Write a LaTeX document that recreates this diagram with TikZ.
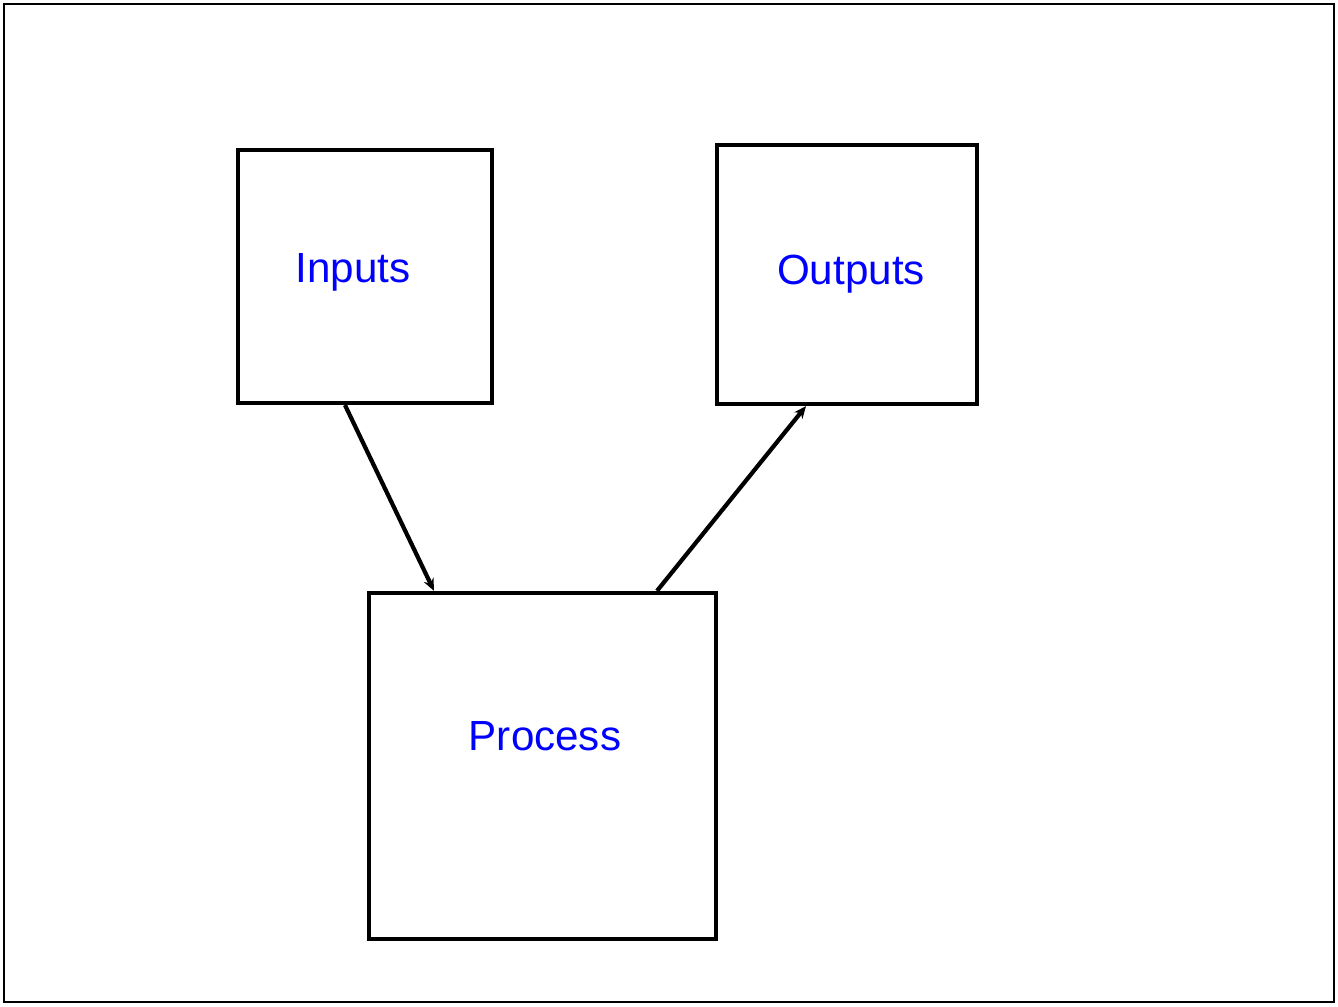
\documentclass[tikz,border=0pt]{standalone}
\usepackage{fontspec}
\setmainfont{Liberation Sans}
\usetikzlibrary{arrows.meta}

\tikzset{
	blockbox/.style={draw,line width=2.4pt,rectangle,inner sep=0pt},
	blocktext/.style={text=blue,font=\fontsize{24}{29}\selectfont},
	flow/.style={line width=2.4pt,-{Stealth[length=7pt,width=6pt]}}
}

\begin{document}
\begin{tikzpicture}
		\useasboundingbox (0,0) rectangle (26.76,-20.12);
		\draw[line width=0.9pt] (0.08,-0.08) rectangle (26.68,-20.04);
		% the three blocks
		\node[blockbox,minimum width=5.08cm,minimum height=5.06cm](in) at (7.30,-5.53){};
		\node[blockbox,minimum width=5.20cm,minimum height=5.18cm](out) at (16.94,-5.49){};
		\node[blockbox,minimum width=6.94cm,minimum height=6.92cm](pr) at (10.85,-15.32){};
		\node[blocktext](intext) at (7.06,-5.44){Inputs};
		\node[blocktext](outtext) at (17.02,-5.48){Outputs};
		\node[blocktext](prtext) at (10.90,-14.72){Process};
		% arrows between blocks
		\draw[flow] ([xshift=-0.40cm]in.south) -- ([xshift=-2.17cm]pr.north);
		\draw[flow] ([xshift=2.29cm]pr.north) -- ([xshift=-0.82cm]out.south);
	\end{tikzpicture}
\end{document}
